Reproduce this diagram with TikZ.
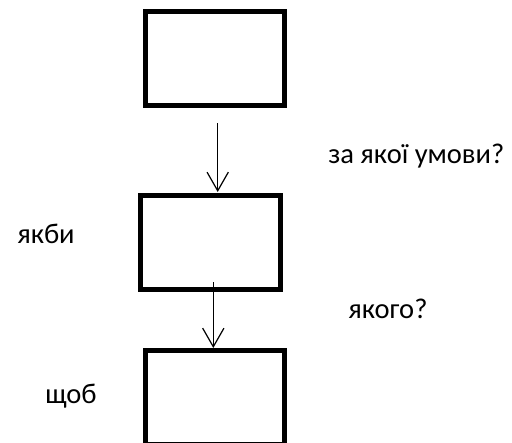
\documentclass[tikz,border=0pt]{standalone}
\usepackage{fontspec}
\setmainfont{Carlito}
\usetikzlibrary{arrows.meta}
\begin{document}
\begin{tikzpicture}[x=0.75pt,y=-0.75pt,
  box/.style={draw=black,line width=3.75pt,minimum width=#1*0.75pt,minimum height=94*0.75pt,inner sep=0pt,fill=white},
  box/.default=139,
  conn/.style={draw=black,line width=0.9pt,-{Straight Barb[length=14pt,width=16pt,line width=0.9pt]}},
  lbl/.style={anchor=base west,inner sep=0pt,font=\fontsize{21.4}{24}\selectfont}]
\useasboundingbox[fill=white] (0,0) rectangle (512,443);
\clip (0,0) rectangle (512,443);
\node[box] (top) at (215,58.5) {};
\node[box=140] (mid) at (210.5,242.5) {};
\node[box,minimum height=93.5*0.75pt] (bot) at (215,397.25) {};
\coordinate (a1s) at (217.7,123);
\coordinate (a1e) at (217.7,192);
\coordinate (a2s) at (213.3,282);
\coordinate (a2e) at (213.3,348);
\draw[conn] (a1s) -- (a1e);
\draw[conn] (a2s) -- (a2e);
\node[lbl] (q1) at (328,163) {за якої умови?};
\node[lbl] (q2) at (348,318) {якого?};
\node[lbl] (l1) at (17,243) {якби};
\node[lbl] (l2) at (45,403) {щоб};
\end{tikzpicture}
\end{document}
